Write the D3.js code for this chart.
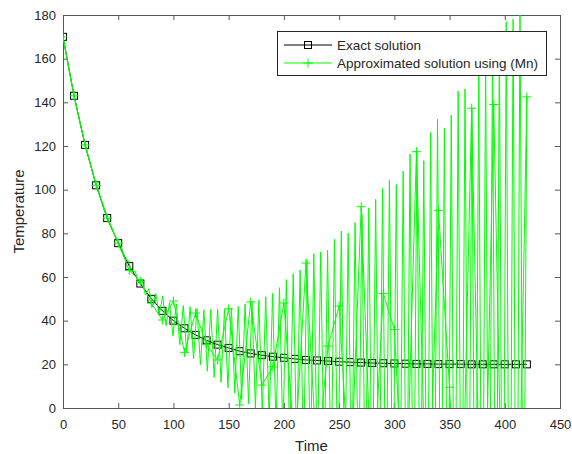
<!DOCTYPE html>
<meta charset="utf-8">
<style>
  body { margin: 0; background: #fff; }
  text { font-family: "Liberation Sans", Arial, sans-serif; fill: #262626; }
  .axis path, .axis line { stroke: #555; }
</style>
<svg width="572" height="454"></svg>
<script src="https://d3js.org/d3.v7.min.js"></script>
<script>

// exact solution, sampled every 10 time units (0..420)
var exactT = d3.range(0, 421, 10);
var exactV = [170, 143, 120.5, 102, 87, 75.5, 65, 57, 50, 44.5,
              40, 36.5, 33.5, 31, 29, 27.5, 26, 25, 24.2, 23.5,
              23, 22.5, 22, 21.8, 21.5, 21.2, 21, 20.8, 20.6, 20.5,
              20.4, 20.3, 20.2, 20.2, 20.1, 20.1, 20.1, 20, 20, 20,
              20, 20, 20];

// approximated solution (Mn), marker points every 10 time units
// (several of the late ones fall below the axes)
var approxT = d3.range(0, 421, 10);
var approxV = [170, 143, 120.5, 102, 87, 75.5, 63, 58, 48, 40.3,
               49, 25.5, 43.5, 29, 22, 45.4, 1.4, 48.6, 10.5, 18.8,
               48.1, -20, 66.4, -25, 28.4, 46.7, -40, 92.2, -45, 52.5,
               36, -60, 117.4, -70, 90.4, 9.5, -90, 137.3, -110, 139,
               -120, -130, 142.5];

// approximated solution (Mn), every step (136 steps over 0..420)
var fineV = [170, 161, 152.6, 144.7, 137.3, 130.3, 123.7, 117.5, 111.7, 106.2,
             101.1, 96.2, 91.7, 87.4, 83.4, 79.6, 76, 73.7, 68.5, 67.6,
             62.3, 62.7, 57.2, 58.9, 51.7, 54.7, 46.3, 52.5, 42.8, 51.2,
             37.7, 48.3, 32.9, 47.7, 29, 46.9, 25.4, 46.4, 22.5, 45.6,
             19.8, 45, 16.8, 45.1, 14, 45.4, 11.8, 45.3, 9.3, 45.8,
             6.9, 46.5, 4.1, 47.7, 1.9, 48.6, -0.2, 49.5, -2.8, 51,
             -5.3, 52.5, -8.7, 55.1, -13.1, 58.8, -16.4, 61.5, -18.7, 63.2,
             -24, 67.9, -27.2, 70.7, -28.4, 71.5, -29.6, 72.3, -34.8, 77.2,
             -38.9, 81, -38, 80, -43.1, 84.9, -47.2, 88.8, -50.3, 91.7,
             -54.4, 95.6, -59.5, 100.5, -63.5, 104.5, -61.6, 102.4, -67.6, 108.4,
             -75.7, 116.3, -76.7, 117.3, -72.7, 113.3, -85.8, 126.2, -91.8, 132.2,
             -87.8, 128.2, -93.9, 134.1, -104.9, 145.1, -105.9, 146.1, -96.9, 137.1,
             -113.9, 154.1, -119.9, 160.1, -125.9, 166.1, -130, 170, -137, 177,
             -138, 178, -145, 185, -102, 142.5];
var fineStep = 420 / (fineV.length - 1);

var xTicks = [0, 50, 100, 150, 200, 250, 300, 350, 400, 450];
var yTicks = [0, 20, 40, 60, 80, 100, 120, 140, 160, 180];

var svg = d3.select("svg");

var pLeft = 63, pRight = 560, pTop = 15, pBottom = 408;

var x = d3.scaleLinear().domain([0, 450]).range([pLeft, pRight]);
var y = d3.scaleLinear().domain([0, 180]).range([pBottom, pTop]);

svg.append("clipPath").attr("id", "clip")
  .append("rect")
    .attr("x", pLeft).attr("y", pTop)
    .attr("width", pRight - pLeft).attr("height", pBottom - pTop);

// axes, MATLAB style with inward ticks on all four sides
svg.append("g")
    .attr("class", "axis")
    .attr("transform", "translate(0," + pBottom + ")")
    .call(d3.axisBottom(x).tickValues(xTicks).tickSize(-5).tickPadding(12))
    .attr("font-size", 13);

svg.append("g")
    .attr("class", "axis")
    .attr("transform", "translate(0," + pTop + ")")
    .call(d3.axisTop(x).tickValues(xTicks).tickSize(-5).tickFormat(""));

svg.append("g")
    .attr("class", "axis")
    .attr("transform", "translate(" + pLeft + ",0)")
    .call(d3.axisLeft(y).tickValues(yTicks).tickSize(-5).tickPadding(7))
    .attr("font-size", 13);

svg.append("g")
    .attr("class", "axis")
    .attr("transform", "translate(" + pRight + ",0)")
    .call(d3.axisRight(y).tickValues(yTicks).tickSize(-5).tickFormat(""));

svg.selectAll(".axis .domain").attr("stroke", "#555");
svg.selectAll(".axis text").attr("fill", "#262626");

// axis labels
svg.append("text")
    .attr("x", (pLeft + pRight) / 2)
    .attr("y", 451)
    .attr("text-anchor", "middle")
    .attr("font-size", 15)
    .text("Time");

svg.append("text")
    .attr("transform", "translate(24," + ((pTop + pBottom) / 2) + ") rotate(-90)")
    .attr("text-anchor", "middle")
    .attr("font-size", 15)
    .text("Temperature");

var plot = svg.append("g").attr("clip-path", "url(#clip)");

var line = d3.line()
    .x(function(d) { return x(d[0]); })
    .y(function(d) { return y(d[1]); });

var exactData = exactT.map(function(t, i) { return [t, exactV[i]]; });
var approxData = approxT.map(function(t, i) { return [t, approxV[i]]; });
var fineData = fineV.map(function(v, i) { return [i * fineStep, v]; });

// exact solution: black line with square markers
plot.append("path")
    .datum(exactData)
    .attr("fill", "none")
    .attr("stroke", "#000")
    .attr("stroke-width", 1)
    .attr("d", line);

plot.selectAll(".sq")
  .data(exactData)
  .enter().append("rect")
    .attr("class", "sq")
    .attr("x", function(d) { return x(d[0]) - 3.5; })
    .attr("y", function(d) { return y(d[1]) - 3.5; })
    .attr("width", 7).attr("height", 7)
    .attr("fill", "none")
    .attr("stroke", "#000");

// approximated solution: green
plot.append("path")
    .datum(fineData)
    .attr("fill", "none")
    .attr("stroke", "#00ff00")
    .attr("stroke-width", 1)
    .attr("d", line);

plot.append("path")
    .datum(approxData)
    .attr("fill", "none")
    .attr("stroke", "#00ff00")
    .attr("stroke-width", 1)
    .attr("d", line);

plot.selectAll(".plus")
  .data(approxData)
  .enter().append("path")
    .attr("class", "plus")
    .attr("transform", function(d) { return "translate(" + x(d[0]) + "," + y(d[1]) + ")"; })
    .attr("d", "M-4.5,0H4.5M0,-4.5V4.5")
    .attr("stroke", "#00ff00")
    .attr("stroke-width", 1);

// legend
var lg = svg.append("g");
lg.append("rect")
    .attr("x", 277.5).attr("y", 31.5)
    .attr("width", 269).attr("height", 44)
    .attr("fill", "#fff")
    .attr("stroke", "#262626");

lg.append("line")
    .attr("x1", 284).attr("x2", 332).attr("y1", 45).attr("y2", 45)
    .attr("stroke", "#000");
lg.append("rect")
    .attr("x", 304.5).attr("y", 41.5).attr("width", 7).attr("height", 7)
    .attr("fill", "none").attr("stroke", "#000");
lg.append("text")
    .attr("x", 337).attr("y", 50)
    .attr("font-size", 13.5)
    .text("Exact solution");

lg.append("line")
    .attr("x1", 284).attr("x2", 332).attr("y1", 63).attr("y2", 63)
    .attr("stroke", "#00ff00");
lg.append("path")
    .attr("transform", "translate(308,63)")
    .attr("d", "M-4.5,0H4.5M0,-4.5V4.5")
    .attr("stroke", "#00ff00");
lg.append("text")
    .attr("x", 337).attr("y", 68)
    .attr("font-size", 13.5)
    .text("Approximated solution using (Mn)");

</script>
